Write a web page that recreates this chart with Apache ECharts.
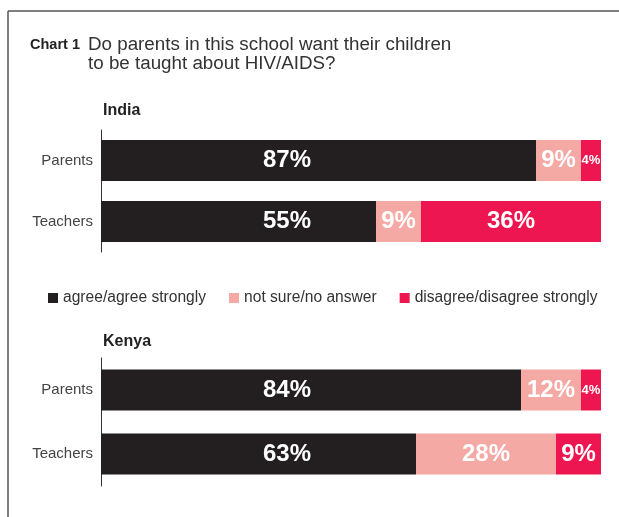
<!DOCTYPE html>
<html lang="en">
<head>
    <meta charset="UTF-8">
    <script type="text/javascript" src="https://cdn.jsdelivr.net/npm/echarts@6/dist/echarts.min.js"></script>
    <title>Chart 1</title>
    <style>
        html, body { margin: 0; padding: 0; background: #fff; }
    </style>
</head>
<body>
<div id="main" style="width: 619px;height:517px;"></div>
<script type="text/javascript">
    // data
    var groups = ['Parents', 'Teachers'];
    var seriesNames = ['agree/agree strongly', 'not sure/no answer', 'disagree/disagree strongly'];
    var colors = ['#231f20', '#f5a9a4', '#ed1650'];
    var india_agree = [87, 55];
    var india_notsure = [9, 9];
    var india_disagree = [4, 36];
    var kenya_agree = [84, 63];
    var kenya_notsure = [12, 28];
    var kenya_disagree = [4, 9];

    var FONT = '"Liberation Sans", Arial, Helvetica, sans-serif';

    // small segments get a smaller label
    function toData(arr) {
        return arr.map(function (v) {
            return {
                value: v,
                label: { fontSize: v < 5 ? 13 : 24 }
            };
        });
    }

    function makeSeries(name, arr, idx, gridIdx) {
        var label = {
            show: true,
            position: 'inside',
            formatter: '{c}%',
            color: '#fff',
            fontWeight: 'bold',
            fontFamily: FONT
        };
        // agree labels sit at the same spot in every bar
        if (idx === 0) {
            label.position = [186, '50%'];
            label.align = 'center';
            label.verticalAlign = 'middle';
        }
        return {
            name: name,
            type: 'bar',
            stack: 'g' + gridIdx,
            xAxisIndex: gridIdx,
            yAxisIndex: gridIdx,
            barWidth: 41,
            itemStyle: { color: colors[idx] },
            label: label,
            emphasis: { disabled: true },
            data: toData(arr)
        };
    }

    var myChart = echarts.init(document.getElementById('main'));

    var catAxis = function (gridIdx) {
        return {
            type: 'category',
            gridIndex: gridIdx,
            data: groups,
            inverse: true,
            axisLine: { show: true, lineStyle: { color: '#333', width: 1 } },
            axisTick: { show: false },
            axisLabel: { color: '#444', fontSize: 15, fontFamily: FONT, margin: 8 }
        };
    };
    var valAxis = function (gridIdx) {
        return {
            type: 'value',
            gridIndex: gridIdx,
            min: 0,
            max: 100,
            show: false
        };
    };

    var option = {
        animation: false,
        textStyle: { fontFamily: FONT },
        title: [
            {
                text: 'Chart 1',
                left: 30, top: 37, padding: 0,
                textStyle: { fontSize: 14.5, fontWeight: 'bold', color: '#222', fontFamily: FONT }
            },
            {
                text: 'Do parents in this school want their children\nto be taught about HIV/AIDS?',
                left: 88, top: 35, padding: 0,
                textStyle: { fontSize: 18.8, fontWeight: 'normal', color: '#333', lineHeight: 19, fontFamily: FONT }
            },
            {
                text: 'India',
                left: 103, top: 103, padding: 0,
                textStyle: { fontSize: 16, fontWeight: 'bold', color: '#222', fontFamily: FONT }
            },
            {
                text: 'Kenya',
                left: 103, top: 334, padding: 0,
                textStyle: { fontSize: 16, fontWeight: 'bold', color: '#222', fontFamily: FONT }
            }
        ],
        legend: {
            data: seriesNames,
            left: 48,
            top: 290,
            padding: 0,
            icon: 'rect',
            itemWidth: 10,
            itemHeight: 10,
            itemGap: 23,
            selectedMode: false,
            textStyle: { fontSize: 15.6, color: '#333', fontFamily: FONT }
        },
        graphic: [
            // frame
            { type: 'line', shape: { x1: 8, y1: 11, x2: 619, y2: 11 }, style: { stroke: '#555', lineWidth: 1.5 } },
            { type: 'line', shape: { x1: 8, y1: 11, x2: 8, y2: 517 }, style: { stroke: '#555', lineWidth: 1.5 } }
        ],
        grid: [
            { left: 101, right: 18, top: 130, height: 122 },
            { left: 101, right: 18, top: 358, height: 128 }
        ],
        xAxis: [valAxis(0), valAxis(1)],
        yAxis: [catAxis(0), catAxis(1)],
        series: [
            makeSeries(seriesNames[0], india_agree, 0, 0),
            makeSeries(seriesNames[1], india_notsure, 1, 0),
            makeSeries(seriesNames[2], india_disagree, 2, 0),
            makeSeries(seriesNames[0], kenya_agree, 0, 1),
            makeSeries(seriesNames[1], kenya_notsure, 1, 1),
            makeSeries(seriesNames[2], kenya_disagree, 2, 1)
        ]
    };
    myChart.setOption(option);
</script>
</body>
</html>
